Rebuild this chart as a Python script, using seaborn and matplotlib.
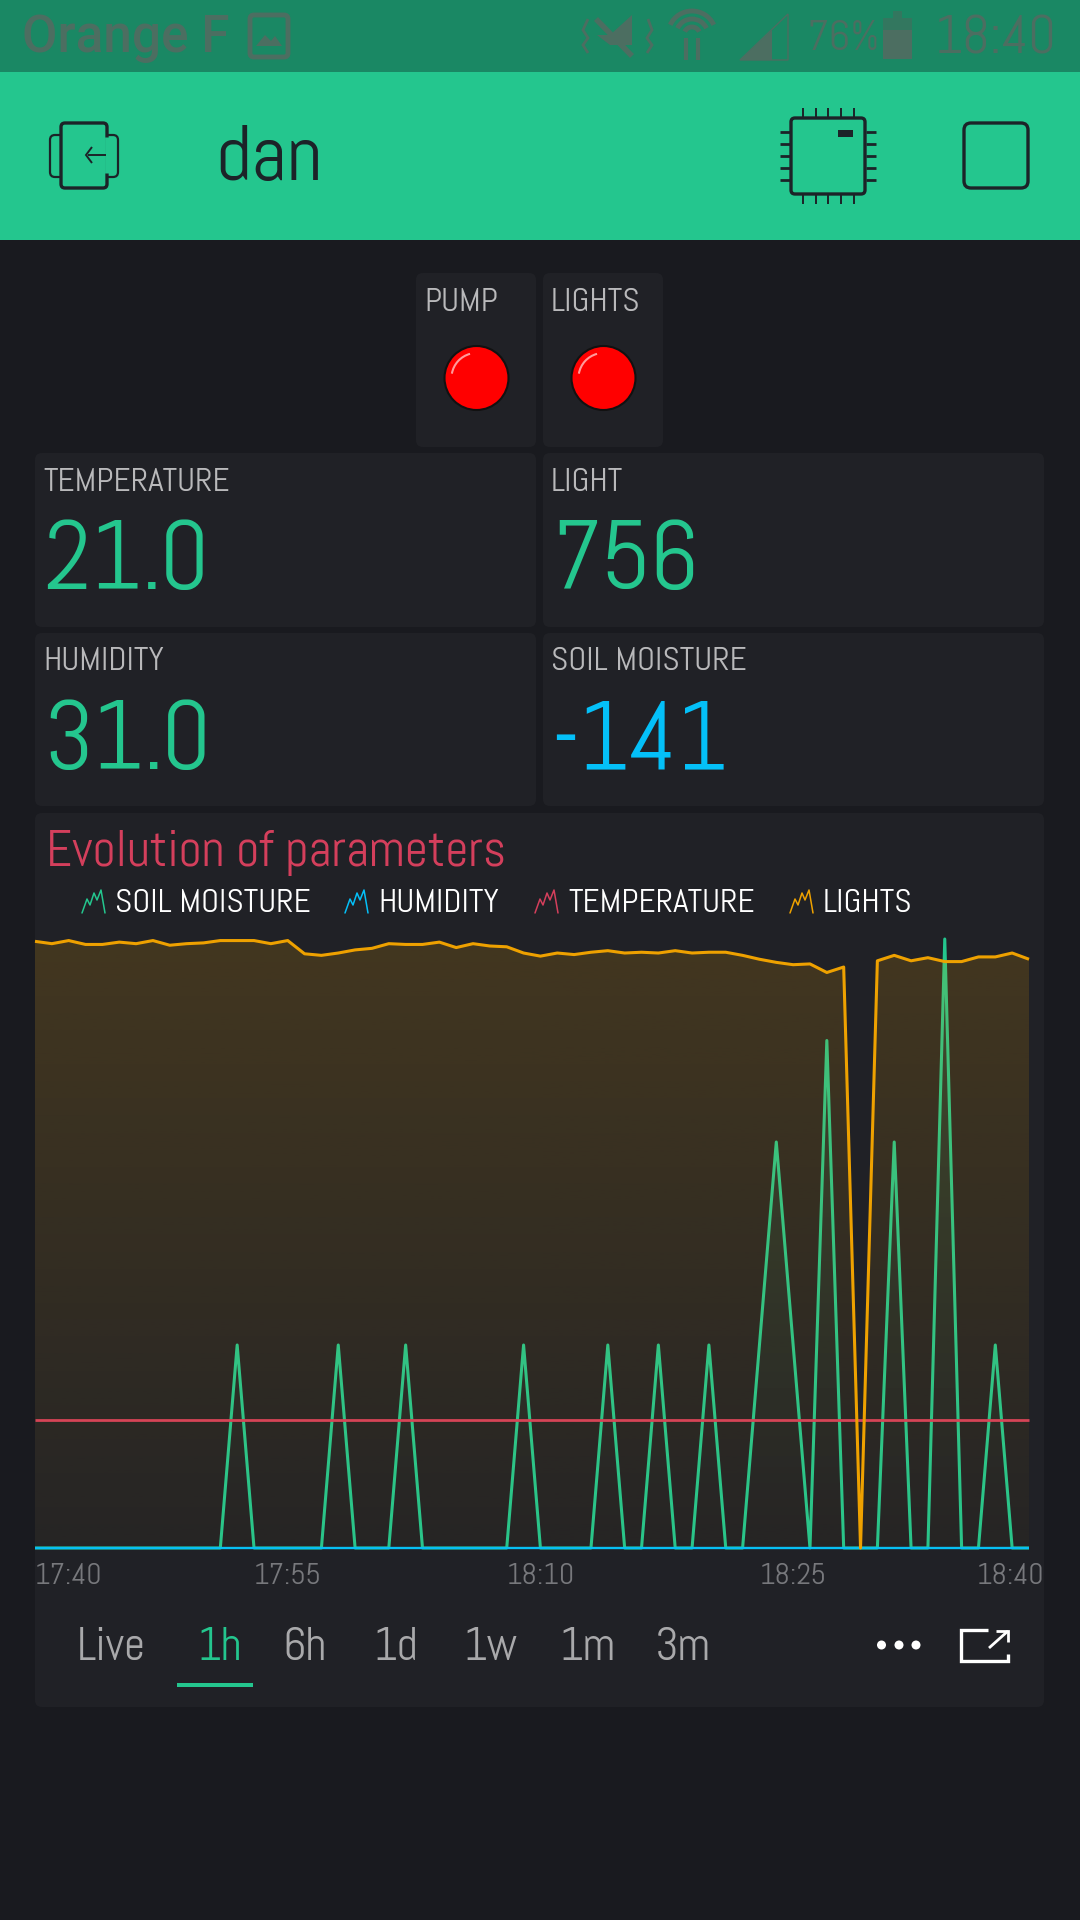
import numpy as np
import pandas as pd
import seaborn as sns
import matplotlib
matplotlib.use("Agg")
import matplotlib.pyplot as plt
from matplotlib import patches
from matplotlib.transforms import ScaledTranslation

# ---------- data ----------
lights = [779, 776, 780, 775, 775, 778, 776, 780, 774, 776, 777, 780, 780, 780, 776, 780,
          763, 761, 764, 768, 770, 776, 775, 775, 778, 771, 776, 773, 772, 764, 760, 764,
          762, 765, 767, 764, 765, 764, 767, 764, 765, 765, 761, 756, 752, 749, 750, 739,
          746, 0, 754, 761, 754, 758, 753, 753, 759, 759, 764, 756]
soil_points = {12: 2, 18: 2, 22: 2, 29: 2, 34: 2, 37: 2, 40: 2, 43: 2, 44: 4, 45: 2, 47: 5, 51: 4, 54: 6, 57: 2}
minutes = list(range(60))
soil = [soil_points.get(m, 0) for m in minutes]
humidity = [0] * 60
temperature = [21] * 60
tick_pos = [0, 15, 30, 45, 59]
tick_labels = ["17:40", "17:55", "18:10", "18:25", "18:40"]
series_names = ["SOIL MOISTURE", "HUMIDITY", "TEMPERATURE", "LIGHTS"]
ranges = ["Live", "1h", "6h", "1d", "1w", "1m", "3m"]

BG = "#191a1f"; CARD = "#202126"; GREEN = "#24c68e"; STATUS = "#1a8864"; DARK = "#1c2328"
ORANGE = "#eea100"; RED = "#d43f5c"; BLUE = "#04c0f8"; LABEL = "#b9b9bb"; FADED = "#4c6e61"

sns.set_theme(style="dark")
plt.rcParams["font.family"] = ["Abel", "Roboto", "DejaVu Sans"]
W, H = 1080, 1920
fig = plt.figure(figsize=(W / 100, H / 100), dpi=100, facecolor=BG)
ui = fig.add_axes([0, 0, 1, 1], facecolor=BG)
ui.set_xlim(0, W); ui.set_ylim(H, 0); ui.axis("off")

def rect(x0, y0, x1, y1, fc, r=0, ec="none", lw=0, z=1):
    if r:
        p = patches.FancyBboxPatch((x0 + r, y0 + r), x1 - x0 - 2 * r, y1 - y0 - 2 * r,
                                   boxstyle=f"round,pad={r},rounding_size={r}", fc=fc, ec=ec, lw=lw, zorder=z)
    else:
        p = patches.Rectangle((x0, y0), x1 - x0, y1 - y0, fc=fc, ec=ec, lw=lw, zorder=z)
    ui.add_patch(p)

def txt(x, y, s, size, color, va="baseline", ha="left", **kw):
    ui.text(x, y, s, fontsize=size, color=color, va=va, ha=ha, zorder=5, **kw)

def poly(xs, ys, color, lw=2.0, z=4, cap="butt"):
    ui.plot(xs, ys, color=color, lw=lw, zorder=z, solid_capstyle=cap, solid_joinstyle="miter")

# status bar and header
rect(0, 0, W, 72, STATUS)
rect(0, 72, W, 240, GREEN)
txt(22, 52, "Orange F", 37, FADED, family=["Roboto", "DejaVu Sans"], fontweight="medium")
rect(250, 15, 288, 57, "none", r=4, ec=FADED, lw=3.5, z=3)
ui.add_patch(patches.Polygon([[256, 46], [265, 35], [271, 41], [275, 36], [282, 46]], fc=FADED, ec="none", zorder=4))
poly([596, 632], [19, 56], FADED, 4)
ui.add_patch(patches.Polygon([[597, 35], [610, 35], [632, 15], [632, 45], [610, 45]], fc=FADED, ec="none", zorder=4))
poly([588, 583, 588, 583, 588], [19, 30, 38, 45, 53], FADED, 2)
poly([648, 652, 647, 652, 647], [19, 30, 38, 45, 53], FADED, 2)
for r_w in (24, 16, 8):
    ui.add_patch(patches.Arc((692, 35), 2 * r_w, 2 * r_w, theta1=205, theta2=335, color=FADED, lw=3.5, zorder=4))
poly([686, 686], [38, 60], FADED, 3); poly([698, 698], [38, 60], FADED, 3)
ui.add_patch(patches.Polygon([[740, 60], [788, 14], [788, 60]], fc="none", ec=FADED, lw=1, zorder=3))
ui.add_patch(patches.Polygon([[740, 60], [772, 30], [772, 60]], fc=FADED, ec="none", zorder=4))
txt(807, 50, "76%", 31, FADED)
rect(883, 25, 912, 59, FADED)
rect(883, 18, 912, 30, "#33775f")
rect(893, 11, 902, 18, "#33775f")
txt(935, 53, "18:40", 39, FADED)

# header icons
rect(50, 135, 118, 177, "none", r=5, ec=DARK, lw=1.6, z=2)
rect(61, 123, 107, 188, GREEN, r=4, ec=DARK, lw=2.4, z=3)
poly([107, 107], [137, 173], GREEN, 3.5, z=3.5)
poly([88, 106], [155, 155], DARK, 1.4)
poly([92, 86, 92], [147, 155, 163], DARK, 1.4)
txt(215, 180, "dan", 57, DARK)
rect(791, 118, 865, 194, "none", r=4, ec=DARK, lw=2.4, z=3)
rect(838, 130, 853, 137, DARK, z=4)
for i in range(5):
    px = 803 + i * 12.7
    poly([px, px], [108, 117], DARK, 1.4); poly([px, px], [195, 204], DARK, 1.4)
    py = 132 + i * 12
    poly([780, 790], [py, py], DARK, 2.0); poly([866, 876], [py, py], DARK, 2.0)
rect(964, 123, 1028, 188, "none", r=7, ec=DARK, lw=2.4, z=3)

# widget cards
rect(416, 273, 536, 447, CARD, r=7)
rect(543, 273, 663, 447, CARD, r=7)
rect(35, 453, 536, 627, CARD, r=7)
rect(543, 453, 1044, 627, CARD, r=7)
rect(35, 633, 536, 806, CARD, r=7)
rect(543, 633, 1044, 806, CARD, r=7)
rect(35, 813, 1044, 1707, CARD, r=7)

txt(424, 311, "PUMP", 24, LABEL)
txt(551, 311, "LIGHTS", 24, LABEL)
for cx in (476.5, 603.5):
    ui.add_patch(patches.Circle((cx, 378), 32, fc="#ff0000", ec="#111111", lw=1.5, zorder=3))
    ui.add_patch(patches.Arc((cx, 378), 50, 50, theta1=190, theta2=255, color="#ff9a9a", lw=1.5, zorder=4))

txt(43, 491, "TEMPERATURE", 24, LABEL)
txt(551, 491, "LIGHT", 24, LABEL)
txt(43, 670, "HUMIDITY", 24, LABEL)
txt(551, 670, "SOIL MOISTURE", 24, LABEL)
txt(43, 589, "21.0", 70, GREEN)
txt(551, 589, "756", 70, GREEN)
txt(43, 769, "31.0", 70, GREEN)
txt(551, 769, "-141", 70, BLUE)

# chart title and legend
txt(46, 866, "Evolution of parameters", 36.5, RED)
leg_colors = [GREEN, BLUE, RED, ORANGE]
leg_icon_x = [82, 345, 535, 790]
leg_text_x = [115, 378, 568, 823]
for name, c, ix, tx in zip(series_names, leg_colors, leg_icon_x, leg_text_x):
    ui.plot(ix + np.array([0, 5, 8, 12, 15, 19, 23]), [913, 899, 905, 893, 900, 890, 913], color=c, lw=1.1, zorder=5)
    txt(tx, 912, name, 24, "#ffffff")

# chart
PX0, PX1, PY0, PY1 = 35, 1029, 939, 1548
rect_ax = [PX0 / W, 1 - PY1 / H, (PX1 - PX0) / W, (PY1 - PY0) / H]
ax = fig.add_axes(rect_ax, facecolor="none")
ax_h = ax.twinx(); ax_t = ax.twinx(); ax_l = ax.twinx()

def gradient_fill(a, xs, ys, color, ymax, top_alpha, bot_alpha):
    verts = [(xs[0], 0)] + list(zip(xs, ys)) + [(xs[-1], 0)]
    clip = patches.Polygon(verts, closed=True, fc="none", ec="none", transform=a.transData)
    a.add_patch(clip)
    rgb = matplotlib.colors.to_rgb(color)
    grad = np.zeros((256, 1, 4)); grad[..., :3] = rgb
    grad[..., 3] = np.linspace(bot_alpha, top_alpha, 256)[:, None]
    im = a.imshow(grad, extent=[xs[0], xs[-1], 0, ymax], origin="lower", aspect="auto", zorder=1)
    im.set_clip_path(clip)

frames = [(ax, soil, GREEN, 6, 2.2), (ax_h, humidity, BLUE, 100, 1.7),
          (ax_t, temperature, RED, 100, 2.0), (ax_l, lights, ORANGE, 782, 2.2)]
for a, vals, c, ymax, lw in frames:
    df = pd.DataFrame({"minute": minutes, "value": vals})
    sns.lineplot(data=df, x="minute", y="value", ax=a, color=c, lw=lw, errorbar=None,
                 clip_on=False, zorder=3, solid_capstyle="butt")
    if a is ax_l:
        gradient_fill(a, minutes, vals, c, ymax, 0.17, 0.03)
    elif a is ax:
        gradient_fill(a, minutes, vals, c, ymax, 0.15, 0.0)
    a.set_xlim(0, 59); a.set_ylim(0, ymax)
    a.set_facecolor("none"); a.grid(False)
    a.set_xlabel(""); a.set_ylabel("")
    a.set_yticks([])
    for s in a.spines.values():
        s.set_visible(False)

ax.set_xticks(tick_pos)
ax.set_xticklabels(tick_labels, fontsize=21.5, color="#77787c")
ax.tick_params(axis="x", length=0, pad=11)
lab = ax.get_xticklabels()
lab[0].set_ha("left")
lab[-1].set_ha("right")
lab[-1].set_transform(lab[-1].get_transform() + ScaledTranslation(15 / 100, 0, fig.dpi_scale_trans))

# range selector
range_x = [77, 197, 282, 373, 463, 559, 655]
for r_name, x in zip(ranges, range_x):
    txt(x, 1660, r_name, 33, GREEN if r_name == "1h" else "#a9a9ab")
rect(177, 1683, 253, 1686.5, GREEN, z=4)
for x in (881.5, 899, 916):
    ui.add_patch(patches.Ellipse((x, 1645), 9, 9, fc="white", ec="none", zorder=5))
poly([988, 961, 961, 1008, 1008], [1630, 1630, 1661, 1661, 1654], "white", 2.4)
poly([989, 1008], [1648, 1631], "white", 2.0)
poly([996, 1008, 1008], [1631, 1631, 1642], "white", 2.0)

fig.savefig("out.png", dpi=100, facecolor=BG)
